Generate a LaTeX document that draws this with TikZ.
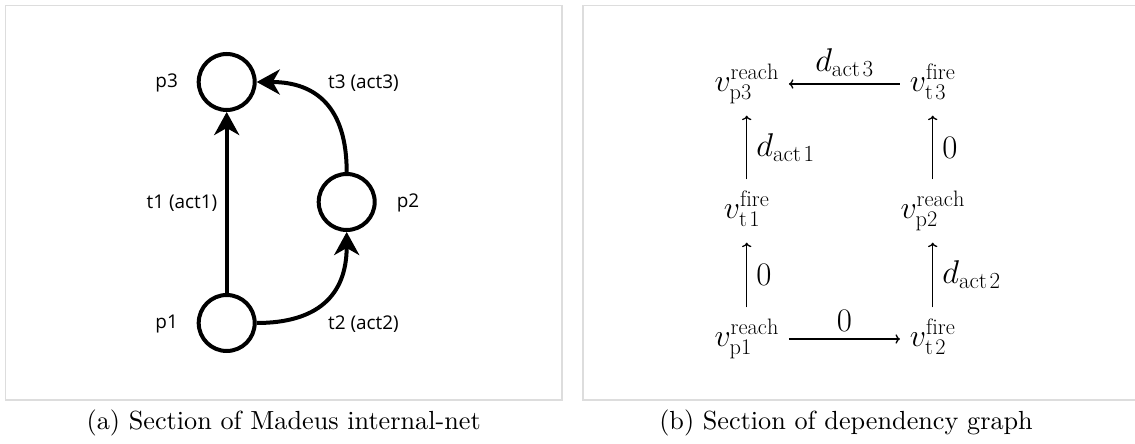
\RequirePackage{fix-cm}
\documentclass[tikz,border=0pt]{standalone}
\usepackage{fontspec}
\newfontfamily\labelfont{Open Sans}
\newfontfamily\capfont[Extension=.otf]{lmroman10-regular}
\usetikzlibrary{arrows.meta}
\definecolor{framegray}{RGB}{221,221,221}
\begin{document}
\begin{tikzpicture}[x=1bp,y=-1bp,
  frame/.style={draw=framegray, line width=1.8bp},
  place/.style={circle, draw, line width=4bp, minimum size=56bp, inner sep=0pt},
  pedge/.style={line width=4bp, -{Stealth[length=23bp,width=25bp,inset=7bp]}},
  plabel/.style={font=\labelfont\fontsize{19}{23}\selectfont, inner sep=0pt},
  mnode/.style={font=\fontsize{32}{38}\selectfont, inner sep=10bp, outer sep=0pt, text height=29bp, text depth=14.4bp},
  darrow/.style={->, line width=1.3bp},
  lbl/.style={font=\fontsize{33}{38}\selectfont, inner sep=7bp},
  caption/.style={font=\capfont\fontsize{26.3}{32}\selectfont, anchor=base, inner sep=0pt}
]
\useasboundingbox (0,0) rectangle (1135,444);
% frames
\draw[frame] (5.5,5.5) rectangle (562,400);
\draw[frame] (583,5.5) rectangle (1145,400);

% ---- left panel: Petri net section
\node[place] (lp3) at (226.7,82) {};
\node[place] (lp2) at (346.7,202) {};
\node[place] (lp1) at (226.7,323) {};
\draw[pedge] (lp1) -- (lp3);
\draw[pedge] (lp2.north) .. controls +(0,-64) and +(60,0) .. (lp3.east);
\draw[pedge] (lp1.east) .. controls +(60,0) and +(0,64) .. (lp2.south);
\node[plabel] (np3) at (166.7,83) {p3};
\node[plabel] (nt3) at (363.5,83) {t3 (act3)};
\node[plabel] (nt1) at (182,203) {t1 (act1)};
\node[plabel] (np2) at (408,203) {p2};
\node[plabel] (np1) at (166.7,324) {p1};
\node[plabel] (nt2) at (363.5,324) {t2 (act2)};

% ---- right panel: dependency graph
\node[mnode] (vp3) at (746.7,84) {$v^{\mathrm{reach}}_{\mathrm{p3}}$};
\node[mnode] (vt3) at (932.7,84) {$v^{\mathrm{fire}}_{\mathrm{t}\mkern2mu 3}$};
\node[mnode] (vt1) at (746.7,211) {$v^{\mathrm{fire}}_{\mathrm{t}\mkern2mu 1}$};
\node[mnode] (vp2) at (932.7,211) {$v^{\mathrm{reach}}_{\mathrm{p2}}$};
\node[mnode] (vp1) at (746.7,339) {$v^{\mathrm{reach}}_{\mathrm{p1}}$};
\node[mnode] (vt2) at (932.7,339) {$v^{\mathrm{fire}}_{\mathrm{t}\mkern2mu 2}$};
\draw[darrow] (vt3) -- (vp3) node[midway, above, lbl] (l3) {$d_{\mathrm{act}\mkern2mu 3}$};
\draw[darrow] (vt1) -- (vp3) node[midway, right, lbl, xshift=2bp] (l1) {$d_{\mathrm{act}\mkern2mu 1}$};
\draw[darrow] (vp1) -- (vt1) node[midway, right, lbl, xshift=2bp] (l0a) {$0$};
\draw[darrow] (vp2) -- (vt3) node[midway, right, lbl, xshift=2bp] (l0b) {$0$};
\draw[darrow] (vt2) -- (vp2) node[midway, right, lbl, xshift=2bp] (l2) {$d_{\mathrm{act}\mkern2mu 2}$};
\draw[darrow] (vp1) -- (vt2) node[midway, above, lbl] (l0c) {$0$};

% captions
\node[caption] (capa) at (283.7,430) {(a) Section of Madeus internal-net};
\node[caption] (capb) at (846,430) {(b) Section of dependency graph};
\end{tikzpicture}
\end{document}
